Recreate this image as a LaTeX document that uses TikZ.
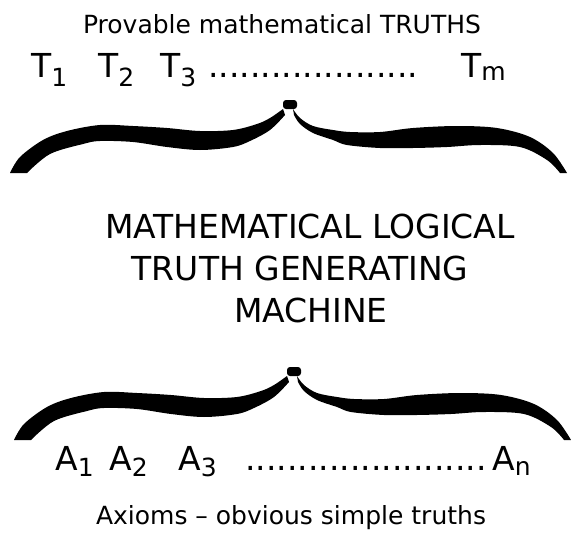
\documentclass[tikz,border=0pt]{standalone}
\usepackage{fontspec}
\setmainfont{DejaVu Sans}
\newcommand\lowsub[2][9pt]{\raisebox{-#1}{\fontsize{25}{25}\selectfont #2}}
\tikzset{
  ttl/.style={font=\fontsize{25}{28}\selectfont, inner sep=0, anchor=base},
  mid/.style={font=\fontsize{33}{36}\selectfont, inner sep=0, anchor=base},
  sym/.style={font=\fontsize{33}{36}\selectfont, inner sep=0, anchor=base west},
  bracepic/.pic={
    \fill[black] plot[smooth, tension=0.55] coordinates {(10,173) (20,157) (43,140) (67,131) (100,125) (133,126) (167,128) (200,131) (233,130) (257,124) (270,118) (283,109)}
      -- plot[smooth, tension=0.55] coordinates {(285,115) (270,130) (250,141) (233,147) (200,150) (167,147) (133,142) (100,141) (83,144) (50,154) (27,173)} -- cycle;
    \fill[black] plot[smooth, tension=0.55] coordinates {(293,109) (300,118) (313,126) (333,130) (350,132) (380,132) (413,128) (457,126) (497,128) (530,137) (553,153) (567,173)}
      -- plot[smooth, tension=0.55] coordinates {(560,173) (547,160) (520,147) (480,145) (447,147) (413,148) (380,148) (347,145) (333,140) (313,133) (300,124) (294,115)} -- cycle;
    \fill[black, rounded corners=3pt] (283,100) rectangle (297,109);
  }
}
\begin{document}
\begin{tikzpicture}[x=1pt,y=-1pt]
\useasboundingbox (0,0) rectangle (571,533);
\fill[white] (0,0) rectangle (571,533);
% top
\node[ttl] (top) at (282,33) {Provable mathematical TRUTHS};
\node[sym] (t1) at (31,77) {T\lowsub{1}};
\node[sym] (t2) at (98,77) {T\lowsub{2}};
\node[sym] (t3) at (160,77) {T\lowsub{3}};
\node[sym] (tdots) at (208,77) {....................};
\node[sym] (tm) at (461,77) {T\lowsub[3pt]{m}};
\pic (upperbrace) at (0,0) {bracepic};
% middle
\node[mid] (m1) at (310,238) {MATHEMATICAL LOGICAL};
\node[mid] (m2) at (300,280) {TRUTH GENERATING};
\node[mid] (m3) at (311,322) {MACHINE};
% bottom
\pic (lowerbrace) at (4,267) {bracepic};
\node[sym] (a1) at (55,470) {A\lowsub[6pt]{1}};
\node[sym] (a2) at (109,470) {A\lowsub[6pt]{2}};
\node[sym] (a3) at (178,470) {A\lowsub[6pt]{3}};
\node[sym] (adots) at (245,470) {.......................};
\node[sym] (an) at (492,470) {A\lowsub[5pt]{n}};
\node[ttl] (bot) at (291,524) {Axioms – obvious simple truths};
\end{tikzpicture}
\end{document}
